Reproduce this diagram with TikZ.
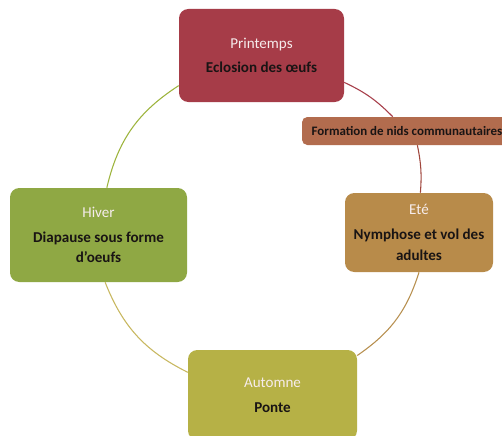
\documentclass[tikz,border=0pt]{standalone}
\usepackage{fontspec}
\setmainfont{Carlito}
\usepackage{tikz}

\definecolor{printempsfill}{RGB}{166,60,72}
\definecolor{hiverfill}{RGB}{143,168,68}
\definecolor{etefill}{RGB}{184,139,74}
\definecolor{automnefill}{RGB}{182,177,70}
\definecolor{nidsfill}{RGB}{178,108,78}
\definecolor{bodytext}{RGB}{25,20,20}
\definecolor{titletext}{RGB}{246,236,236}

\tikzset{
  season/.style={rounded corners=7pt, align=center, inner sep=2pt,
    font=\fontsize{11.3}{15.5}\selectfont, text=bodytext},
  cyclearc/.style={line width=0.8pt},
}
\newcommand{\saison}[1]{\textcolor{titletext}{#1}\\[3pt]}

\begin{document}
\begin{tikzpicture}[x=0.75pt,y=0.75pt,yscale=-1,xscale=1]
\clip (0,0) rectangle (502,435);
\fill[white] (0,0) rectangle (502,435);

%Shape: Rounded Rect [id:printemps]
\node (printemps) at (261.5,55.5) [season, fill=printempsfill, minimum width=123.75pt, minimum height=69.75pt]
  {\saison{Printemps}\textbf{Eclosion des œufs}};
%Shape: Rounded Rect [id:hiver]
\node (hiver) at (98.5,235) [season, fill=hiverfill, minimum width=132.75pt, minimum height=70.5pt]
  {\saison{Hiver}\textbf{Diapause sous forme}\\\textbf{d'oeufs}};
%Shape: Rounded Rect [id:ete]
\node (ete) at (419,232.5) [season, fill=etefill, minimum width=111pt, minimum height=59.25pt]
  {\saison{Eté}\textbf{Nymphose et vol des}\\\textbf{adultes}};
%Shape: Rounded Rect [id:automne]
\node (automne) at (272.5,395) [season, fill=automnefill, minimum width=126.75pt, minimum height=67.5pt]
  {\saison{Automne}\textbf{Ponte}};
%Shape: Rounded Rect [id:nids]
\node (nids) at (407,131) [season, fill=nidsfill, rounded corners=4pt, minimum width=157.5pt, minimum height=21pt,
  font=\fontsize{9.7}{11}\selectfont\bfseries] {Formation de nids communautaires};

%Curve Lines
\draw [cyclearc, color={rgb, 255:red, 157; green, 180; blue, 60 }] (hiver.80) to[bend right=22] (printemps.200);
%Curve Lines
\draw [cyclearc, color=printempsfill] (printemps.-18) to[bend right=10] (nids.135);
%Curve Lines
\draw [cyclearc, color={rgb, 255:red, 160; green, 70; blue, 60 }] (nids.-54) to[bend right=8] (ete.88);
%Curve Lines
\draw [cyclearc, color={rgb, 255:red, 184; green, 144; blue, 80 }] (ete.south) to[bend right=19] (automne.25);
%Curve Lines
\draw [cyclearc, color={rgb, 255:red, 200; green, 184; blue, 96 }] (automne.165) to[bend right=21] (hiver.-82);

\end{tikzpicture}
\end{document}
